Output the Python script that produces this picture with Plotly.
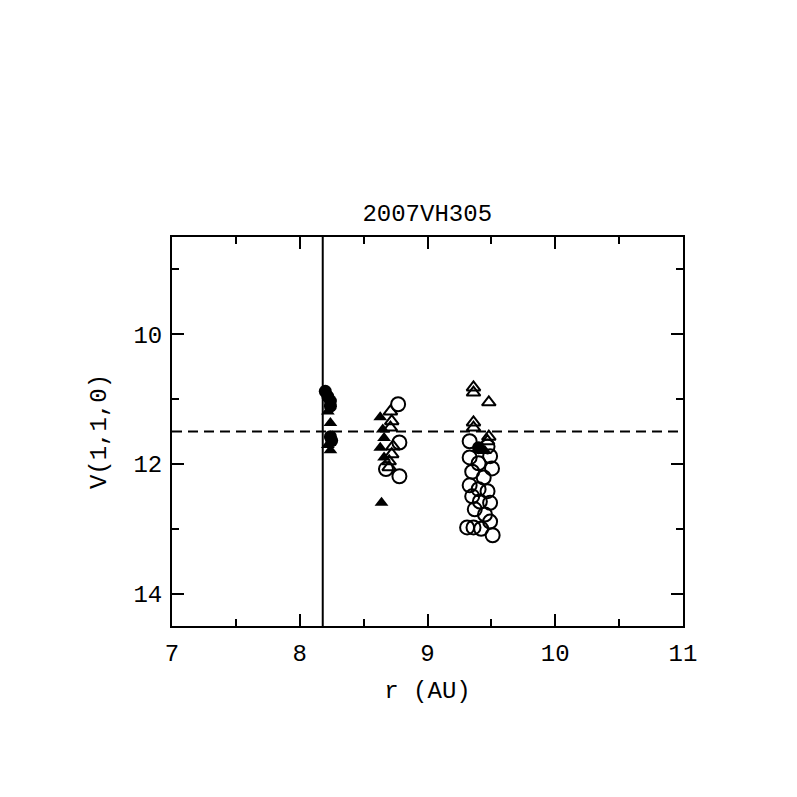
import plotly.graph_objects as go

# Filled circles
fc_r = [8.20, 8.22, 8.24, 8.24, 8.24, 8.25, 9.40]
fc_V = [10.88, 10.96, 11.03, 11.11, 11.58, 11.64, 11.75]

# Filled triangles
ft_r = [8.22, 8.24, 8.22, 8.24, 8.63, 8.65, 8.66, 8.63, 8.66, 8.64, 9.45]
ft_V = [11.19, 11.37, 11.71, 11.79, 11.28, 11.47, 11.60, 11.75, 11.90, 12.60, 11.80]

# Open triangles
ot_r = [8.71, 8.72, 8.71, 8.73, 8.72, 8.70, 8.70,
        9.36, 9.36, 9.48, 9.36, 9.36, 9.48, 9.47]
ot_V = [11.19, 11.34, 11.44, 11.73, 11.85, 11.96, 12.05,
        10.82, 10.90, 11.05, 11.36, 11.44, 11.58, 11.65]

# Open circles
oc_r = [8.77, 8.78, 8.675, 8.78,
        9.33, 9.47, 9.33, 9.49, 9.40, 9.505, 9.35, 9.44, 9.33, 9.40,
        9.47, 9.35, 9.41, 9.49, 9.37, 9.45, 9.49, 9.36, 9.42, 9.31, 9.51]
oc_V = [11.08, 11.67, 12.08, 12.19,
        11.65, 11.73, 11.90, 11.88, 11.99, 12.07, 12.12, 12.21, 12.33, 12.39,
        12.42, 12.50, 12.58, 12.60, 12.70, 12.78, 12.89, 12.98, 13.00, 12.98, 13.10]

r_line = 8.18
V_ref = 11.5

FONT = "Liberation Mono"

fig = go.Figure()
fig.add_trace(go.Scatter(x=oc_r, y=oc_V, mode="markers",
                         marker=dict(symbol="circle-open", size=14, color="black",
                                     line=dict(width=2, color="black"))))
fig.add_trace(go.Scatter(x=ot_r, y=ot_V, mode="markers",
                         marker=dict(symbol="triangle-up-open", size=12, color="black",
                                     line=dict(width=2, color="black"))))
fig.add_trace(go.Scatter(x=fc_r, y=fc_V, mode="markers",
                         marker=dict(symbol="circle", size=13, color="black")))
fig.add_trace(go.Scatter(x=ft_r, y=ft_V, mode="markers",
                         marker=dict(symbol="triangle-up", size=12, color="black")))

fig.add_shape(type="line", xref="x", yref="paper", x0=r_line, x1=r_line, y0=0, y1=1,
              line=dict(color="black", width=2))
fig.add_shape(type="line", xref="paper", yref="y", x0=0, x1=1, y0=V_ref, y1=V_ref,
              line=dict(color="black", width=2, dash="10px,6px"))

tfont = dict(family=FONT, size=24, color="black")

axis_common = dict(showgrid=False, zeroline=False, showline=True, linecolor="black",
                   linewidth=2, mirror="allticks", ticks="inside", ticklen=12,
                   tickwidth=2, tickcolor="black", tickfont=tfont)

fig.update_xaxes(range=[7, 11], tickvals=[7, 8, 9, 10, 11],
                 minor=dict(tickvals=[7.5, 8.5, 9.5, 10.5], ticklen=7, tickwidth=2,
                            tickcolor="black", ticks="inside"),
                 ticklabelstandoff=4,
                 title=dict(text="r (AU)", font=tfont, standoff=14),
                 **axis_common)
fig.update_yaxes(range=[14.5, 8.5], tickvals=[10, 12, 14],
                 minor=dict(tickvals=[9, 11, 13], ticklen=7, tickwidth=2,
                            tickcolor="black", ticks="inside"),
                 ticklabelstandoff=3,
                 title=dict(text="V(1,1,0)", font=tfont, standoff=20),
                 **axis_common)

fig.update_layout(
    width=797, height=797,
    margin=dict(l=164, r=122, t=229, b=179),
    paper_bgcolor="white", plot_bgcolor="white",
    showlegend=False,
    title=dict(text="2007VH305", x=0.526, xanchor="center", y=0.743, yanchor="middle",
               font=tfont),
)

fig.write_html("out.html")
